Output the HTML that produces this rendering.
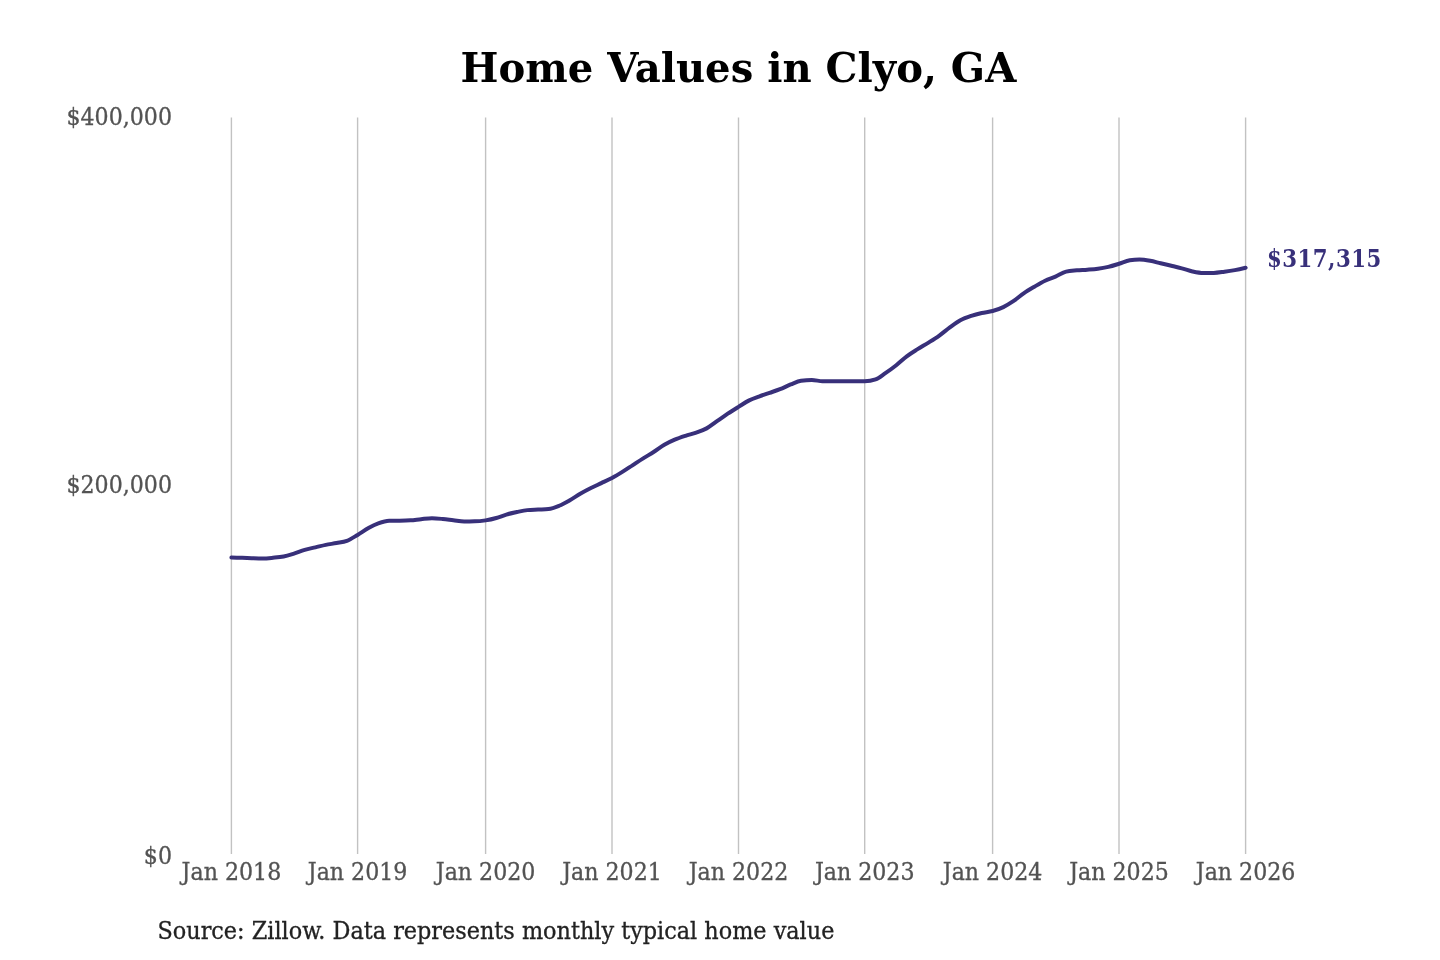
<!DOCTYPE html>
<html><head><meta charset="utf-8"><title>Home Values in Clyo, GA</title>
<style>
html,body{margin:0;padding:0;background:#fff;width:1440px;height:960px;overflow:hidden}
svg{display:block;filter:blur(0.35px)}
</style></head>
<body>
<svg width="1440" height="960" viewBox="0 0 1440 960">
<rect width="1440" height="960" fill="#fff"/>
<text x="460.5" y="81.5" font-family="'DejaVu Serif', serif" font-weight="bold" font-size="40.15" fill="#000">Home Values in Clyo, GA</text>
<g stroke="#c2c2c2" stroke-width="1.4">
<line x1="231.4" y1="117.6" x2="231.4" y2="854.0"/>
<line x1="357.6" y1="117.6" x2="357.6" y2="854.0"/>
<line x1="485.6" y1="117.6" x2="485.6" y2="854.0"/>
<line x1="612.0" y1="117.6" x2="612.0" y2="854.0"/>
<line x1="738.5" y1="117.6" x2="738.5" y2="854.0"/>
<line x1="864.7" y1="117.6" x2="864.7" y2="854.0"/>
<line x1="992.6" y1="117.6" x2="992.6" y2="854.0"/>
<line x1="1119.0" y1="117.6" x2="1119.0" y2="854.0"/>
<line x1="1245.6" y1="117.6" x2="1245.6" y2="854.0"/>
</g>
<g font-family="'DejaVu Serif Condensed', 'DejaVu Serif', serif" font-stretch="condensed" font-size="24.6" fill="#535353" stroke="#535353" stroke-width="0.3" text-anchor="end">
<text x="172" y="124.6">$400,000</text>
<text x="172" y="492.6">$200,000</text>
<text x="172" y="863.6">$0</text>
</g>
<g font-family="'DejaVu Serif Condensed', 'DejaVu Serif', serif" font-stretch="condensed" font-size="24.6" fill="#535353" stroke="#535353" stroke-width="0.3" text-anchor="middle">
<text x="231.4" y="879.8">Jan 2018</text>
<text x="357.6" y="879.8">Jan 2019</text>
<text x="485.6" y="879.8">Jan 2020</text>
<text x="612.0" y="879.8">Jan 2021</text>
<text x="738.5" y="879.8">Jan 2022</text>
<text x="864.7" y="879.8">Jan 2023</text>
<text x="992.6" y="879.8">Jan 2024</text>
<text x="1119.0" y="879.8">Jan 2025</text>
<text x="1245.6" y="879.8">Jan 2026</text>
</g>
<path d="M231.40,557.51 C234.97,557.63 238.55,557.74 242.12,557.87 C245.35,557.98 248.57,558.13 251.80,558.23 C255.37,558.34 258.95,558.48 262.52,558.48 C265.98,558.48 269.43,558.10 272.89,557.77 C276.46,557.44 280.04,557.21 283.61,556.49 C287.07,555.78 290.52,554.62 293.98,553.54 C297.55,552.42 301.13,550.90 304.70,549.87 C308.27,548.83 311.85,548.19 315.42,547.34 C318.88,546.52 322.33,545.56 325.79,544.85 C329.36,544.12 332.94,543.73 336.51,543.05 C339.97,542.39 343.42,542.15 346.88,540.84 C350.45,539.49 354.03,537.05 357.60,534.93 C361.22,532.78 364.85,530.03 368.47,528.04 C371.74,526.24 375.02,524.58 378.29,523.40 C381.91,522.09 385.54,520.84 389.16,520.79 C392.67,520.74 396.18,520.77 399.68,520.72 C403.31,520.66 406.93,520.58 410.55,520.31 C414.06,520.06 417.57,519.52 421.07,519.19 C424.70,518.84 428.32,518.26 431.95,518.26 C435.57,518.26 439.19,518.65 442.82,518.99 C446.32,519.31 449.83,519.83 453.34,520.23 C456.96,520.64 460.58,521.43 464.21,521.43 C467.72,521.43 471.22,521.41 474.73,521.36 C478.35,521.32 481.98,520.93 485.60,520.36 C489.17,519.80 492.74,519.00 496.31,518.00 C499.64,517.06 502.98,515.58 506.32,514.61 C509.89,513.57 513.46,512.81 517.03,512.05 C520.48,511.32 523.93,510.49 527.39,510.13 C530.96,509.75 534.53,509.74 538.09,509.55 C541.55,509.38 545.00,509.39 548.45,509.05 C552.02,508.70 555.59,507.21 559.16,505.74 C562.73,504.26 566.30,502.21 569.87,500.18 C573.32,498.22 576.77,495.80 580.23,493.80 C583.80,491.74 587.36,489.83 590.93,488.03 C594.39,486.29 597.84,484.80 601.29,483.16 C604.86,481.46 608.43,479.91 612.00,478.00 C615.58,476.08 619.16,473.88 622.74,471.65 C625.98,469.64 629.21,467.44 632.45,465.33 C636.03,463.00 639.61,460.58 643.19,458.33 C646.66,456.15 650.12,454.25 653.59,452.04 C657.17,449.75 660.75,446.88 664.33,444.80 C667.80,442.79 671.26,441.18 674.73,439.70 C678.31,438.16 681.89,436.98 685.47,435.79 C689.06,434.61 692.64,433.84 696.22,432.58 C699.68,431.36 703.15,430.25 706.62,428.37 C710.20,426.42 713.78,423.46 717.36,420.98 C720.82,418.57 724.29,416.03 727.76,413.71 C731.34,411.31 734.92,409.09 738.50,406.86 C742.07,404.64 745.65,402.14 749.22,400.37 C752.45,398.77 755.67,397.74 758.90,396.54 C762.47,395.21 766.05,394.07 769.62,392.82 C773.08,391.61 776.53,390.52 779.99,389.16 C783.56,387.75 787.14,385.89 790.71,384.48 C794.17,383.12 797.62,381.25 801.08,380.79 C804.65,380.32 808.23,380.09 811.80,380.09 C815.37,380.09 818.95,381.12 822.52,381.19 C825.98,381.26 829.43,381.30 832.89,381.30 C836.46,381.30 840.04,381.30 843.61,381.30 C847.07,381.30 850.52,381.30 853.98,381.30 C857.55,381.30 861.13,381.28 864.70,381.23 C868.32,381.18 871.94,380.61 875.56,379.37 C878.83,378.25 882.10,375.38 885.37,373.16 C889.00,370.70 892.62,368.10 896.24,365.24 C899.74,362.48 903.25,359.00 906.75,356.35 C910.37,353.62 913.99,351.47 917.61,349.18 C921.12,346.97 924.62,345.01 928.12,342.83 C931.75,340.57 935.37,338.40 938.99,335.83 C942.61,333.26 946.23,330.04 949.85,327.40 C953.35,324.85 956.86,322.13 960.36,320.22 C963.98,318.25 967.60,317.05 971.22,315.84 C974.73,314.66 978.23,313.79 981.74,313.00 C985.36,312.18 988.98,312.02 992.60,311.02 C996.17,310.04 999.74,308.80 1003.31,307.08 C1006.64,305.47 1009.98,303.43 1013.32,301.19 C1016.89,298.80 1020.46,295.53 1024.03,293.08 C1027.48,290.71 1030.93,288.73 1034.39,286.70 C1037.96,284.60 1041.53,282.43 1045.09,280.72 C1048.55,279.07 1052.00,278.06 1055.45,276.56 C1059.02,275.02 1062.59,272.40 1066.16,271.58 C1069.73,270.76 1073.30,270.67 1076.87,270.35 C1080.32,270.05 1083.77,269.97 1087.23,269.71 C1090.80,269.45 1094.36,269.25 1097.93,268.77 C1101.39,268.30 1104.84,267.68 1108.29,266.87 C1111.86,266.03 1115.43,264.88 1119.00,263.78 C1122.58,262.68 1126.17,260.83 1129.75,260.26 C1132.99,259.75 1136.23,259.49 1139.46,259.49 C1143.05,259.49 1146.63,260.14 1150.22,260.79 C1153.68,261.42 1157.15,262.49 1160.62,263.31 C1164.21,264.15 1167.79,264.94 1171.37,265.79 C1174.84,266.61 1178.31,267.39 1181.78,268.32 C1185.36,269.28 1188.95,270.69 1192.53,271.48 C1196.12,272.26 1199.70,273.05 1203.28,273.05 C1206.75,273.05 1210.22,273.01 1213.69,272.94 C1217.27,272.87 1220.86,272.21 1224.44,271.73 C1227.91,271.27 1231.38,270.77 1234.85,270.13 C1238.43,269.47 1242.02,268.64 1245.60,267.80" fill="none" stroke="#38307a" stroke-width="4" stroke-linecap="round" stroke-linejoin="round"/>
<text x="1267" y="267" font-family="'DejaVu Serif Condensed', 'DejaVu Serif', serif" font-stretch="condensed" font-weight="bold" font-size="23.6" letter-spacing="0.5" fill="#38307a">$317,315</text>
<text x="157.5" y="938.8" font-family="'DejaVu Serif Condensed', 'DejaVu Serif', serif" font-stretch="condensed" font-size="24.85" fill="#222" stroke="#222" stroke-width="0.3">Source: Zillow. Data represents monthly typical home value</text>
</svg>
</body></html>
